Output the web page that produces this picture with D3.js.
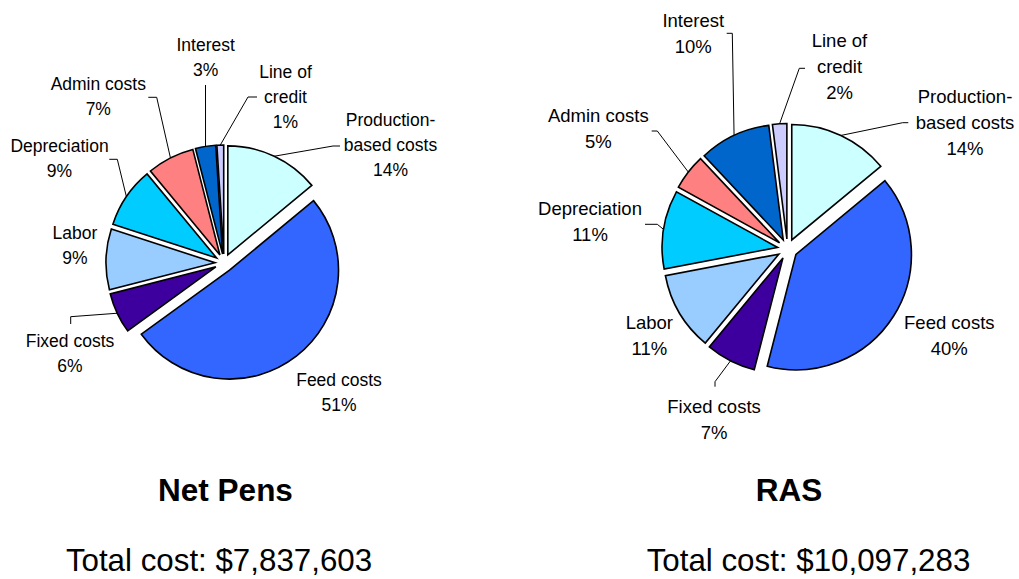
<!DOCTYPE html>
<html>
<head>
<meta charset="utf-8">
<script src="https://cdn.jsdelivr.net/npm/d3@7"></script>
<style>
  html, body { margin: 0; padding: 0; background: #fff; }
  svg { display: block; }
  text { font-family: "Liberation Sans", Arial, Helvetica, sans-serif; fill: #000; }
</style>
</head>
<body>
<svg id="chart" width="1019" height="579"></svg>
<script>
// Cost categories, in clockwise order from 12 o'clock
const categories = ["Production-based costs", "Feed costs", "Fixed costs", "Labor",
                    "Depreciation", "Admin costs", "Interest", "Line of credit"];
// Label text, one entry per category ("|" marks a line break)
const labelText = ["Production-|based costs", "Feed costs", "Fixed costs", "Labor",
                   "Depreciation", "Admin costs", "Interest", "Line of|credit"];
// Share of total cost (%)
const netPensShares = [14, 51, 6, 9, 9, 7, 3, 1];
const rasShares     = [14, 40, 7, 11, 11, 5, 10, 2];
// System names and total costs
const systems = ["Net Pens", "RAS"];
const totals  = ["Total cost: $7,837,603", "Total cost: $10,097,283"];

// Slice fills per category
const sliceColors = ["#CCFFFF", "#3366FF", "#3D009E", "#99CCFF",
                     "#00CCFF", "#FF8080", "#0066CC", "#CCCCFF"];

// Layout for each pie: centre, radius, explode distance, label placement.
// label: [x, y of first line centre]; leader: elbow points from label toward slice
const layouts = [
  {
    cx: 224, cy: 263, r: 109, explode: 9, fs: 17.5, lh: 25,
    titleX: 225.5, totalX: 219,
    labels: [
      { pos: [390.5, 120], leader: [[340, 146], [333, 146]] },
      { pos: [339, 379.5], leader: null },
      { pos: [70, 340.5],  leader: [[70.7, 324], [70.7, 316.7]] },
      { pos: [75, 232.5],  leader: null },
      { pos: [59.5, 146],  leader: [[109.3, 159.3], [117.3, 159.3]] },
      { pos: [98.3, 83.5], leader: [[148.3, 97.3], [156.7, 97.3]] },
      { pos: [205.7, 45],  leader: [[205.5, 85]] },
      { pos: [285.5, 71.7], leader: [[257, 97], [248, 97]] }
    ]
  },
  {
    cx: 787.5, cy: 249, r: 115.5, explode: 10, fs: 18.5, lh: 26,
    titleX: 789, totalX: 808.5,
    labels: [
      { pos: [965, 96.7],  leader: [[908.3, 122.7], [902.7, 122.7]] },
      { pos: [949.3, 322.7], leader: null },
      { pos: [714, 406],   leader: [[715, 386.7], [715, 381.7]] },
      { pos: [649.3, 322.7], leader: null },
      { pos: [590, 208.3], leader: [[645, 224.3], [657.3, 224.3]] },
      { pos: [598.3, 115], leader: [[651.7, 131], [657.3, 131]] },
      { pos: [693.3, 20],  leader: [[726.7, 33.3], [732.3, 33.3]] },
      { pos: [839.5, 40],  leader: [[805, 68.3], [799.3, 68.3]] }
    ]
  }
];

const svg = d3.select("#chart");
const pie = d3.pie().sort(null).value(d => d.value).startAngle(0).endAngle(2 * Math.PI);
const color = d3.scaleOrdinal().domain(categories).range(sliceColors);

[netPensShares, rasShares].forEach((shares, i) => {
  const L = layouts[i];
  const rows = categories.map((c, k) => ({ cat: c, value: shares[k], text: labelText[k], layout: L.labels[k] }));
  const arcs = pie(rows);
  const arc = d3.arc().innerRadius(0).outerRadius(L.r);
  const g = svg.append("g").attr("transform", `translate(${L.cx},${L.cy})`);

  const dir = a => [Math.sin(a), -Math.cos(a)];

  // Leader lines from labels to slice edges
  arcs.forEach(a => {
    const lead = a.data.layout.leader;
    if (!lead) return;
    const mid = (a.startAngle + a.endAngle) / 2;
    const [ux, uy] = dir(mid);
    const end = [ux * (L.r + L.explode), uy * (L.r + L.explode)];
    const pts = lead.map(p => [p[0] - L.cx, p[1] - L.cy]).concat([end]);
    g.append("path")
      .attr("d", d3.line()(pts))
      .attr("fill", "none")
      .attr("stroke", "#000")
      .attr("stroke-width", 1);
  });

  // Exploded slices
  g.selectAll("path.slice")
    .data(arcs)
    .join("path")
    .attr("class", "slice")
    .attr("transform", a => {
      const mid = (a.startAngle + a.endAngle) / 2;
      const [ux, uy] = dir(mid);
      return `translate(${ux * L.explode},${uy * L.explode})`;
    })
    .attr("d", arc)
    .attr("fill", a => color(a.data.cat))
    .attr("stroke", "#000")
    .attr("stroke-width", 1.6)
    .attr("stroke-linejoin", "miter");

  // Category labels with percentages
  arcs.forEach(a => {
    const lines = a.data.text.split("|").concat([a.data.value + "%"]);
    const [lx, ly] = a.data.layout.pos;
    const t = svg.append("text")
      .attr("text-anchor", "middle")
      .style("font-size", L.fs + "px");
    lines.forEach((s, k) => {
      t.append("tspan")
        .attr("x", lx)
        .attr("y", ly + k * L.lh + 0.36 * L.fs)
        .text(s);
    });
  });

  // System name and total cost
  svg.append("text")
    .attr("x", L.titleX).attr("y", 500.5)
    .attr("text-anchor", "middle")
    .style("font-size", "31.5px").style("font-weight", "bold")
    .text(systems[i]);
  svg.append("text")
    .attr("x", L.totalX).attr("y", 571)
    .attr("text-anchor", "middle")
    .style("font-size", "31.3px")
    .text(totals[i]);
});
</script>
</body>
</html>
